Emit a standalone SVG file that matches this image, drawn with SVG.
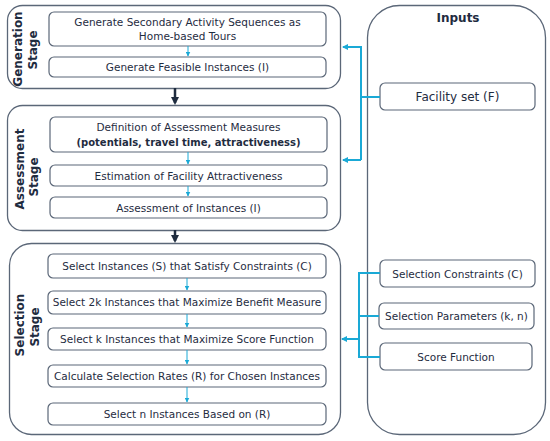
<svg xmlns="http://www.w3.org/2000/svg" width="550" height="441" viewBox="0 0 550 441">
<style>
.stage{fill:#fff;stroke:#5b6778;stroke-width:1.3}
.box{fill:#fff;stroke:#5b6778;stroke-width:1.2}
.t{font-family:"DejaVu Sans",Verdana,sans-serif;font-size:10.5px;fill:#1f2c3f;text-anchor:middle}
.b{font-weight:bold}
.lab{font-family:"DejaVu Sans",Verdana,sans-serif;font-size:12px;font-weight:bold;fill:#1f2c3f;text-anchor:middle}
.cy{fill:none;stroke:#1aa9d6;stroke-width:2}
.cys{fill:none;stroke:#1aa9d6;stroke-width:1}
.blk{fill:none;stroke:#1f2c3f;stroke-width:2.5}
</style>
<defs>
<marker id="ac" markerWidth="6" markerHeight="6" refX="5" refY="3" orient="auto" markerUnits="userSpaceOnUse"><path d="M0,0 L6,3 L0,6 Z" fill="#1aa9d6"/></marker>
<marker id="acs" markerWidth="5" markerHeight="5" refX="4.5" refY="2.5" orient="auto" markerUnits="userSpaceOnUse"><path d="M0,0 L5,2.5 L0,5 Z" fill="#1aa9d6"/></marker>
<marker id="ab" markerWidth="8" markerHeight="8" refX="6" refY="4" orient="auto" markerUnits="userSpaceOnUse"><path d="M0,0 L8,4 L0,8 Z" fill="#1f2c3f"/></marker>
</defs>

<g id="generation-stage">
<rect class="stage" x="7.5" y="5.5" width="333" height="83" rx="15"/>
<text class="lab" transform="translate(22,49) rotate(-90)">Generation</text>
<text class="lab" transform="translate(37,50) rotate(-90)">Stage</text>
</g>
<g id="gen1"><rect class="box" x="49" y="12" width="277" height="34" rx="5"/>
<text class="t" x="187.5" y="26">Generate Secondary Activity Sequences as</text>
<text class="t" x="187.5" y="40">Home-based Tours</text></g>
<g id="gen2"><rect class="box" x="49" y="57" width="277" height="20" rx="5"/>
<text class="t" x="187.5" y="71">Generate Feasible Instances (I)</text></g>

<g id="assessment-stage">
<rect class="stage" x="7.5" y="105.5" width="333" height="125" rx="15"/>
<text class="lab" transform="translate(24,169) rotate(-90)">Assessment</text>
<text class="lab" transform="translate(38,177) rotate(-90)">Stage</text>
</g>
<g id="as1"><rect class="box" x="50" y="117" width="277" height="35" rx="5"/>
<text class="t" x="188.5" y="131">Definition of Assessment Measures</text>
<text class="t b" x="188.5" y="146" style="font-size:10px">(potentials, travel time, attractiveness)</text></g>
<g id="as2"><rect class="box" x="50" y="165" width="277" height="21" rx="5"/>
<text class="t" x="188.5" y="179.5">Estimation of  Facility  Attractiveness</text></g>
<g id="as3"><rect class="box" x="50" y="197" width="277" height="21" rx="5"/>
<text class="t" x="188.5" y="211.5">Assessment of Instances (I)</text></g>

<g id="selection-stage">
<rect class="stage" x="9.5" y="243.5" width="331" height="191" rx="22"/>
<text class="lab" transform="translate(24,325) rotate(-90)">Selection</text>
<text class="lab" transform="translate(39,327) rotate(-90)">Stage</text>
</g>
<g id="se1"><rect class="box" x="48" y="254" width="278" height="24" rx="5"/>
<text class="t" x="187" y="269.5">Select Instances (S) that Satisfy Constraints (C)</text></g>
<g id="se2"><rect class="box" x="48" y="291" width="278" height="23" rx="5"/>
<text class="t" x="187" y="306">Select 2k Instances that Maximize Benefit Measure</text></g>
<g id="se3"><rect class="box" x="48" y="328" width="278" height="22" rx="5"/>
<text class="t" x="187" y="342.5">Select k Instances that Maximize Score Function</text></g>
<g id="se4"><rect class="box" x="48" y="365" width="278" height="22" rx="5"/>
<text class="t" x="187" y="379.5">Calculate Selection Rates (R) for Chosen Instances</text></g>
<g id="se5"><rect class="box" x="48" y="403" width="278" height="22" rx="5"/>
<text class="t" x="187" y="417.5">Select n Instances Based on (R)</text></g>

<g id="inputs">
<rect class="stage" x="367.5" y="5.5" width="178" height="429" rx="32"/>
<text class="lab" x="458" y="22">Inputs</text>
</g>
<g id="facility"><rect class="box" x="380" y="83" width="155" height="27" rx="5"/>
<text class="t" x="457.5" y="101" style="font-size:12px">Facility   set (F)</text></g>
<g id="constraints"><rect class="box" x="380" y="260" width="155" height="27" rx="5"/>
<text class="t" x="457.5" y="277.5">Selection Constraints (C)</text></g>
<g id="parameters"><rect class="box" x="379" y="303" width="155" height="26" rx="5"/>
<text class="t" x="456.5" y="320">Selection Parameters (k, n)</text></g>
<g id="score"><rect class="box" x="380" y="343" width="152" height="27" rx="5"/>
<text class="t" x="456" y="360.5">Score Function</text></g>

<g id="connectors">
<line class="blk" x1="175" y1="88" x2="175" y2="103" marker-end="url(#ab)"/>
<line class="blk" x1="175" y1="230" x2="175" y2="241" marker-end="url(#ab)"/>
<line class="cys" x1="188" y1="46" x2="188" y2="56" marker-end="url(#acs)"/>
<line class="cys" x1="188" y1="152" x2="188" y2="164" marker-end="url(#acs)"/>
<line class="cys" x1="188" y1="186" x2="188" y2="196" marker-end="url(#acs)"/>
<line class="cys" x1="187" y1="278" x2="187" y2="290" marker-end="url(#acs)"/>
<line class="cys" x1="187" y1="314" x2="187" y2="327" marker-end="url(#acs)"/>
<line class="cys" x1="187" y1="350" x2="187" y2="364" marker-end="url(#acs)"/>
<line class="cys" x1="187" y1="387" x2="187" y2="402" marker-end="url(#acs)"/>
<path class="cy" d="M380,97 H361"/>
<path class="cy" d="M361,160 V47 H343" marker-end="url(#ac)"/>
<path class="cy" d="M361,160 H343" marker-end="url(#ac)"/>
<path class="cy" d="M380,273 H359 V357 H380"/>
<path class="cy" d="M379,316 H359"/>
<path class="cy" d="M359,339 H342" marker-end="url(#ac)"/>
</g>
</svg>
